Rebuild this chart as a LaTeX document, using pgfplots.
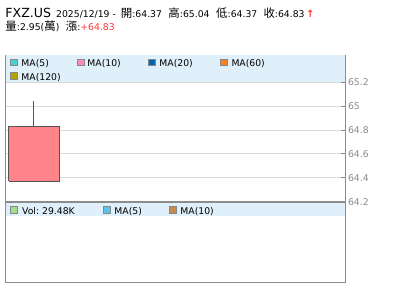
\documentclass[border=0pt]{standalone}
\usepackage{pgfplots}
\pgfplotsset{compat=1.18}
\usepackage{fontspec}
\setmainfont{DejaVu Sans}
\newfontfamily\cjk{Noto Sans CJK TC}
\definecolor{band}{HTML}{DFF0FA}
\definecolor{axgray}{HTML}{8C8C8C}
\definecolor{gridgray}{HTML}{D9D9D9}
\definecolor{labgray}{HTML}{8A8A8A}
\definecolor{sqgray}{HTML}{888888}
\definecolor{candlefill}{HTML}{FF8489}
\definecolor{candleedge}{HTML}{555555}
\definecolor{upred}{HTML}{FF3333}
\definecolor{ma5}{HTML}{44D2CC}
\definecolor{ma10}{HTML}{FF8CB8}
\definecolor{ma20}{HTML}{0066B3}
\definecolor{ma60}{HTML}{FF8020}
\definecolor{ma120}{HTML}{B4A400}
\definecolor{volg}{HTML}{A4E08C}
\definecolor{vma5}{HTML}{58C4F0}
\definecolor{vma10}{HTML}{C48C48}
\newcommand{\sm}{\fontsize{9.3}{11}\selectfont}
\newcommand{\ck}{\cjk\fontsize{11.5}{12}\selectfont}
\newcommand{\legsq}[3]{\filldraw[fill=#3, draw=sqgray, line width=0.7bp] (#1,#2) rectangle ++(6.6,6.6);}
\begin{document}
\begin{tikzpicture}
\path[use as bounding box] (0bp,0bp) rectangle (400bp,301bp);
\begin{axis}[
  at={(5.5bp,99.3bp)}, anchor=south west, scale only axis,
  width=340bp, height=146.5bp,
  xmin=0, xmax=340, ymin=64.2, ymax=65.425,
  axis line style={draw=axgray, line width=0.9bp},
  xtick=\empty,
  ytick={64.2,64.4,64.6,64.8,65,65.2},
  ytick pos=right, yticklabel pos=right,
  tick align=inside, major tick length=4bp,
  tick style={draw=axgray, line width=0.8bp},
  ymajorgrids, grid style={draw=gridgray, line width=0.8bp},
  /pgf/number format/assume math mode=true,
  yticklabel style={font=\sm, text=labgray, xshift=-1bp},
]
\addplot[draw=candleedge, line width=0.75bp] coordinates {(28.3,64.83) (28.3,65.04)};
\addplot[draw=candleedge, fill=candlefill, line width=0.75bp] coordinates {(3.3,64.37) (53.7,64.37) (53.7,64.83) (3.3,64.83) (3.3,64.37)};
\fill[band] (axis cs:0.6,65.2) rectangle (axis cs:339.4,65.425);
\draw[axgray, line width=0.8bp] (axis cs:340,65.2) -- ++(-4bp,0);
\end{axis}
\begin{axis}[
  at={(5.5bp,18.7bp)}, anchor=south west, scale only axis,
  width=340bp, height=80.6bp,
  xmin=0, xmax=340, ymin=0, ymax=1,
  axis line style={draw=axgray, line width=0.9bp},
  xtick=\empty, ytick=\empty,
]
\addplot[draw=none] coordinates {(28.3,0)};
\fill[band] (rel axis cs:0.002,1) rectangle (rel axis cs:0.998,0.823);
\end{axis}
\begin{scope}[x=1bp,y=1bp]
\draw[axgray, line width=2bp] (5.5,99.3) -- (345.5,99.3);
% title
\node[anchor=base west, inner sep=0] at (5.3,283.7) {\fontsize{12.6}{14}\selectfont FXZ.US};
\node[anchor=base west, inner sep=0] at (56,283.7) {\sm 2025/12/19 -};
\node[anchor=base west, inner sep=0] at (120.7,283.7) {{\ck 開}\sm :64.37};
\node[anchor=base west, inner sep=0] at (168.3,283.7) {{\ck 高}\sm :65.04};
\node[anchor=base west, inner sep=0] at (216,283.7) {{\ck 低}\sm :64.37};
\node[anchor=base west, inner sep=0] at (263.3,283.7) {{\ck 收}\sm :64.83};
\node[anchor=base west, inner sep=0, text=upred] at (305.8,283.7) {\fontsize{10}{11}\selectfont\bfseries ↑};
\node[anchor=base west, inner sep=0] at (5.3,271) {{\ck 量}\sm :2.95({\ck 萬})};
\node[anchor=base west, inner sep=0] at (65.7,271) {{\ck 漲}\sm :\textcolor{upred}{+64.83}};
% main legend
\legsq{10.3}{235.5}{ma5}
\node[anchor=base west, inner sep=0] at (21.3,234.3) {\sm MA(5)};
\legsq{77.3}{235.5}{ma10}
\node[anchor=base west, inner sep=0] at (87.3,234.3) {\sm MA(10)};
\legsq{148.7}{235.5}{ma20}
\node[anchor=base west, inner sep=0] at (159.3,234.3) {\sm MA(20)};
\legsq{220.7}{235.5}{ma60}
\node[anchor=base west, inner sep=0] at (231.3,234.3) {\sm MA(60)};
\legsq{10.3}{221.7}{ma120}
\node[anchor=base west, inner sep=0] at (21.3,221) {\sm MA(120)};
% volume legend
\legsq{10.3}{88}{volg}
\node[anchor=base west, inner sep=0] at (22,86.7) {\sm Vol:\ 29.48K};
\legsq{103.7}{88}{vma5}
\node[anchor=base west, inner sep=0] at (114.3,86.7) {\sm MA(5)};
\legsq{169.3}{88}{vma10}
\node[anchor=base west, inner sep=0] at (180.3,86.7) {\sm MA(10)};
\end{scope}
\end{tikzpicture}
\end{document}
